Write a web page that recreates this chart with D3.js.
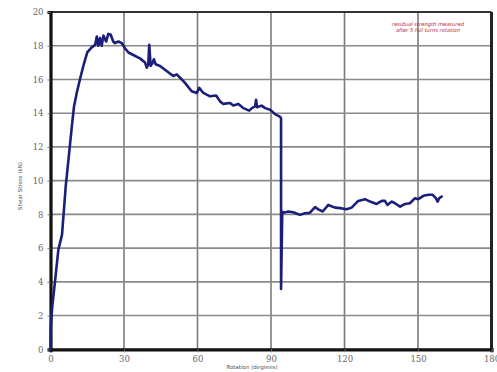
<!DOCTYPE html>
<html><head><meta charset="utf-8">
<script src="https://cdn.jsdelivr.net/npm/d3@7"></script>
<style>html,body{margin:0;padding:0;background:#fff;}svg{display:block;}</style>
</head><body>
<script>
// Data (rotation in degrees, shear stress in kN)
const rotation = [0,0.1,0.7,1.6,3.2,4.7,5.5,6.2,7.3,8.7,9.6,10.7,12.0,13.4,15.0,16.8,18.2,18.9,19.5,20.2,20.9,21.6,22.7,23.6,24.6,25.6,26.3,27.7,29.1,30.4,31.8,33.8,36.5,38.6,39.3,39.9,40.3,40.9,41.7,42.2,42.9,44.7,47.4,50.1,51.5,52.9,54.9,57.6,59.7,60.7,62.4,65.1,67.6,69.2,70.5,73.3,74.6,76.7,78.7,81.1,82.2,83.5,83.9,84.3,86.2,87.6,89.6,91.6,93.6,94.1,94.1,94.6,95.0,97.1,99.1,101.8,103.9,105.9,108.0,109.3,111.1,113.4,116.1,118.2,120.9,122.9,125.6,128.4,130.4,133.1,135.2,136.5,137.5,139.3,140.6,142.7,144.7,146.7,148.8,150.1,152.2,154.2,156.0,157.3,158.0,158.7,159.7];
const shearStress = [0,1.35,2.5,3.7,5.9,6.8,8.3,9.65,11.2,13.2,14.4,15.2,16.0,16.8,17.6,17.9,18.05,18.55,18.0,18.45,18.0,18.6,18.25,18.7,18.65,18.25,18.15,18.25,18.15,17.85,17.6,17.45,17.25,17.0,16.7,16.9,18.05,16.8,17.0,17.2,16.9,16.8,16.5,16.2,16.3,16.1,15.8,15.3,15.2,15.5,15.2,15.0,15.05,14.7,14.55,14.6,14.45,14.55,14.3,14.15,14.3,14.4,14.8,14.35,14.45,14.3,14.2,13.95,13.8,13.7,3.58,8.17,8.1,8.17,8.13,7.97,8.07,8.1,8.43,8.3,8.17,8.56,8.4,8.37,8.3,8.4,8.8,8.9,8.76,8.62,8.8,8.8,8.56,8.76,8.66,8.46,8.62,8.66,8.96,8.9,9.1,9.16,9.16,8.96,8.76,8.96,9.06];
const xTicks = [0,30,60,90,120,150,180];
const yTicks = [0,2,4,6,8,10,12,14,16,18,20];
const xTitle = "Rotation (degrees)";
const yTitle = "Shear Stress (kN)";
const noteLines = ["residual strength measured","after 5 full turns rotation"];

const W = 497, H = 372;
const m = {left: 50.5, right: 5.5, top: 12, bottom: 22.7};
const svg = d3.select("body").append("svg").attr("width", W).attr("height", H);
const x = d3.scaleLinear().domain([0,180]).range([m.left, W - m.right]);
const y = d3.scaleLinear().domain([0,20]).range([H - m.bottom, m.top]);

// gridlines
svg.append("g").selectAll("line").data(xTicks.slice(1,-1)).join("line")
  .attr("x1", d=>x(d)).attr("x2", d=>x(d)).attr("y1", y(0)).attr("y2", y(20))
  .attr("stroke", "#7a7a7a").attr("stroke-width", 1.6);
svg.append("g").selectAll("line").data(yTicks.slice(1,-1)).join("line")
  .attr("x1", x(0)).attr("x2", x(180)).attr("y1", d=>y(d)).attr("y2", d=>y(d))
  .attr("stroke", "#8a8a8a").attr("stroke-width", 1.6);

// frame
svg.append("line").attr("x1", x(0)).attr("x2", x(180)).attr("y1", y(20)).attr("y2", y(20))
  .attr("stroke", "#333").attr("stroke-width", 2);
svg.append("line").attr("x1", x(180)).attr("x2", x(180)).attr("y1", y(20)).attr("y2", y(0))
  .attr("stroke", "#222").attr("stroke-width", 3);

// axes
const xAxis = svg.append("g").attr("transform", `translate(0,${y(0)})`)
  .call(d3.axisBottom(x).tickValues(xTicks).tickSize(3).tickPadding(4).tickFormat(d3.format("d")));
const yAxis = svg.append("g").attr("transform", `translate(${x(0)},0)`)
  .call(d3.axisLeft(y).tickValues(yTicks).tickSize(3).tickPadding(4).tickFormat(d3.format("d")));
[xAxis, yAxis].forEach(g => {
  g.select(".domain").attr("stroke", "#111").attr("stroke-width", 3.2);
  g.selectAll(".tick line").attr("stroke", "#777").attr("stroke-width", 1);
  g.selectAll(".tick text").attr("fill", "#666").attr("font-size", 8.5)
    .attr("font-family", "DejaVu Serif, serif");
});

// curve
const pts = rotation.map((r,i)=>[r, shearStress[i]]);
svg.append("path").datum(pts)
  .attr("d", d3.line().x(d=>x(d[0])).y(d=>y(d[1])))
  .attr("fill", "none").attr("stroke", "#1c1f7a").attr("stroke-width", 2.6)
  .attr("stroke-linejoin", "round").attr("stroke-linecap", "round");

// titles
svg.append("text").attr("x", 252).attr("y", 368.5).attr("text-anchor", "middle")
  .attr("font-size", 5.5).attr("font-family", "DejaVu Sans, sans-serif").attr("fill", "#555").text(xTitle);
svg.append("text").attr("transform", "translate(22,186) rotate(-90)").attr("text-anchor", "middle")
  .attr("font-size", 5.5).attr("font-family", "DejaVu Sans, sans-serif").attr("fill", "#555").text(yTitle);

// note
svg.append("g").selectAll("text").data(noteLines).join("text")
  .attr("x", 428).attr("y", (d,i)=>26 + i*5.5).attr("text-anchor", "middle")
  .attr("font-size", 5.2).attr("font-style", "italic").attr("font-family", "DejaVu Sans, sans-serif")
  .attr("fill", "#c0282e").text(d=>d);
</script>
</body></html>
